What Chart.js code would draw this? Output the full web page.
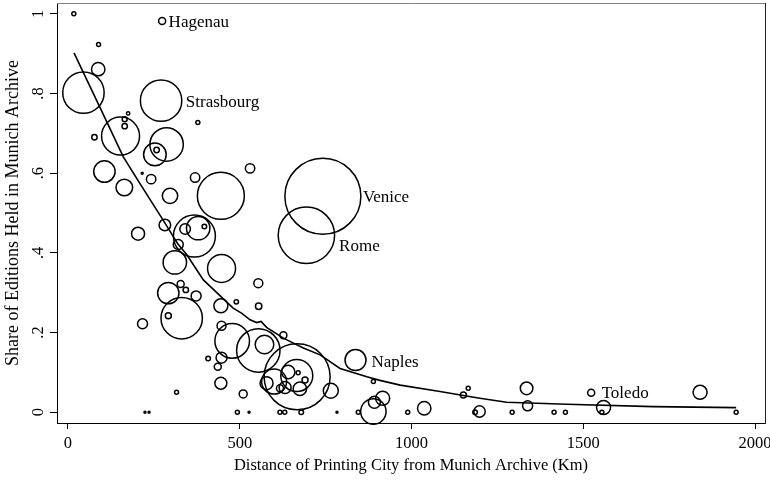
<!DOCTYPE html>
<html>
<head>
<meta charset="utf-8">
<script src="https://cdn.jsdelivr.net/npm/chart.js@4/dist/chart.umd.min.js"></script>
<style>
  html, body { margin: 0; padding: 0; background: #fff; }
  #wrap { width: 770px; height: 480px; }
</style>
</head>
<body>
<div id="wrap"><canvas id="c" width="770" height="480"></canvas></div>
<script>
// ---- data ----
const distKm = [17, 274, 89, 88, 45, 271, 378, 175, 165, 165,
  77, 153, 287, 253, 258, 106, 216, 242, 164, 370,
  530, 297, 445, 742, 694, 282, 204, 368, 379, 341,
  397, 321, 311, 447, 292, 331, 292, 328, 343, 373,
  217, 445, 554, 490, 555, 447, 478, 554, 572, 627,
  408, 447, 436, 445, 316, 510, 667, 666, 641, 670,
  600, 578, 675, 632, 690, 617, 765, 837, 889, 892,
  916, 889, 1037, 1151, 1165, 1198, 1185, 1293, 1335, 1338,
  1415, 1448, 1523, 1559, 1554, 1840, 1945, 224, 236, 493,
  527, 617, 631, 679, 783, 845, 989];
const shareHeld = [1.0, 0.982, 0.923, 0.861, 0.802, 0.782, 0.727, 0.75, 0.735, 0.718,
  0.69, 0.693, 0.672, 0.647, 0.658, 0.604, 0.6, 0.585, 0.564, 0.589,
  0.612, 0.543, 0.543, 0.542, 0.444, 0.47, 0.448, 0.442, 0.462, 0.46,
  0.466, 0.421, 0.376, 0.361, 0.299, 0.236, 0.242, 0.322, 0.307, 0.292,
  0.222, 0.267, 0.324, 0.277, 0.266, 0.217, 0.179, 0.155, 0.17, 0.193,
  0.135, 0.137, 0.114, 0.073, 0.05, 0.046, 0.089, 0.092, 0.101, 0.099,
  0.077, 0.073, 0.059, 0.062, 0.081, 0.06, 0.054, 0.131, 0.077, 0.025,
  0.035, 0.002, 0.01, 0.043, 0.06, 0.002, 0, 0, 0.06, 0.016,
  0, 0, 0.049, 0.012, 0, 0.05, 0, 0, 0, 0,
  0, 0, 0, 0, 0, 0, 0];
// bubble weight (Chart.js bubble radius)
const bubbleR = [2, 3.5, 2, 6.7, 20.7, 20.7, 2, 1.7, 2.5, 2.7,
  2.7, 19, 16.7, 11.3, 2.7, 10.7, 1, 4.7, 8.3, 4.7,
  4.7, 7.7, 23.5, 38, 28.2, 5.8, 6.5, 21, 11.7, 5.3,
  2.3, 5, 11.7, 14, 10.7, 20.7, 3, 3.5, 2.7, 5,
  5, 7, 4.5, 2.2, 3.2, 4.5, 17.3, 21.7, 9.3, 3.5,
  2.3, 5.5, 3.5, 6, 2, 4, 33, 16, 6.7, 2,
  12.5, 6.5, 6.7, 6, 3, 3.5, 7.5, 10.5, 2, 6,
  7, 12.7, 6.7, 3, 2, 5.7, 2.3, 2, 6.3, 5,
  2, 2, 3.5, 7, 2, 7, 2, 1, 1, 2,
  1, 2, 2, 2.3, 1, 2, 2];

// fitted (lowess) curve
const fitX = [17.5, 93, 161, 210, 277, 320, 346, 375, 394, 437, 480, 506, 530, 549, 562, 578, 627, 685, 734, 792, 870, 908, 967, 1083, 1151, 1199, 1277, 1452, 1704, 1945];
const fitY = [0.902, 0.765, 0.641, 0.573, 0.482, 0.422, 0.395, 0.357, 0.332, 0.297, 0.262, 0.248, 0.232, 0.225, 0.228, 0.213, 0.186, 0.161, 0.144, 0.110, 0.089, 0.080, 0.068, 0.052, 0.042, 0.035, 0.025, 0.020, 0.014, 0.0115];

// labelled cities (index into the bubble arrays)
const cityNames = ['Hagenau', 'Strasbourg', 'Venice', 'Rome', 'Naples', 'Toledo'];
const cityIndex = [1, 5, 23, 24, 67, 82];

// ticks
const xTickValues = [0, 500, 1000, 1500, 2000];
const yTickValues = [0, 0.2, 0.4, 0.6, 0.8, 1];
const yTickLabels = ['0', '.2', '.4', '.6', '.8', '1'];

const xTitle = 'Distance of Printing City from Munich Archive (Km)';
const yTitle = 'Share of Editions Held in Munich Archive';

// ---- styling ----
const FAMILY = "'Liberation Serif', 'Times New Roman', serif";
const FONT = { family: FAMILY, size: 16.5 };
const YTITLE_FONT = { family: FAMILY, size: 18 };
const LABEL_SIZE = 17;
const labelStyle = [
  { dx: 3, dy: 6 },   // Hagenau
  { dx: 4, dy: 6.5 }, // Strasbourg
  { dx: 2, dy: 6 },   // Venice
  { dx: 4.5, dy: 16 },// Rome
  { dx: 5.5, dy: 6.5 },// Naples
  { dx: 7, dy: 5.5 }  // Toledo
];

const bubblePoints = distKm.map((d, i) => ({ x: d, y: shareHeld[i], r: bubbleR[i] }));
const fitPoints = fitX.map((d, i) => ({ x: d, y: fitY[i] }));

function zeroPad(s) {
  s.paddingTop = 0; s.paddingBottom = 0; s.paddingLeft = 0; s.paddingRight = 0;
}

const framePlugin = {
  id: 'frame',
  afterDraw(chart) {
    const { ctx, chartArea: a } = chart;
    ctx.save();
    ctx.lineWidth = 1;
    ctx.strokeStyle = '#808080';
    ctx.beginPath();
    ctx.moveTo(a.left, Math.round(a.top) + 0.5);
    ctx.lineTo(a.right + 1, Math.round(a.top) + 0.5);
    ctx.stroke();
    ctx.strokeStyle = '#222';
    ctx.beginPath();
    ctx.moveTo(Math.round(a.right) + 0.5, a.top);
    ctx.lineTo(Math.round(a.right) + 0.5, a.bottom + 1);
    ctx.stroke();
    ctx.restore();
  }
};

const cityLabelPlugin = {
  id: 'cityLabels',
  afterDatasetsDraw(chart) {
    const { ctx } = chart;
    const meta = chart.getDatasetMeta(0);
    ctx.save();
    ctx.fillStyle = '#000';
    ctx.font = `${LABEL_SIZE}px ${FAMILY}`;
    ctx.textAlign = 'left';
    ctx.textBaseline = 'alphabetic';
    cityNames.forEach((name, k) => {
      const idx = cityIndex[k];
      const el = meta.data[idx];
      const st = labelStyle[k];
      ctx.fillText(name, el.x + bubbleR[idx] + st.dx, el.y + st.dy);
    });
    ctx.restore();
  }
};

new Chart(document.getElementById('c'), {
  type: 'bubble',
  data: {
    datasets: [
      {
        data: bubblePoints,
        backgroundColor: 'rgba(0,0,0,0)',
        borderColor: '#000',
        borderWidth: 1.5,
        hoverBorderWidth: 1.5,
        clip: false
      },
      {
        type: 'line',
        data: fitPoints,
        borderColor: '#000',
        borderWidth: 1.6,
        pointRadius: 0,
        fill: false,
        tension: 0,
        clip: false
      }
    ]
  },
  options: {
    responsive: false,
    animation: false,
    events: [],
    devicePixelRatio: 1,
    layout: { autoPadding: false, padding: { left: 0, top: 3, right: 5, bottom: 0 } },
    plugins: { legend: { display: false }, tooltip: { enabled: false } },
    scales: {
      x: {
        type: 'linear',
        min: -32,
        max: 2029,
        afterFit: s => { s.height = 57; zeroPad(s); },
        afterBuildTicks: s => { s.ticks = xTickValues.map(v => ({ value: v })); },
        grid: { display: true, drawOnChartArea: false, drawTicks: true, tickLength: 6, color: '#000', lineWidth: 1 },
        border: { display: true, color: '#000', width: 1 },
        ticks: { color: '#000', font: FONT, padding: 5, maxRotation: 0, autoSkip: false,
                 callback: v => String(v) },
        title: { display: true, text: xTitle, color: '#000', font: FONT, padding: { top: 0, bottom: 4 } }
      },
      y: {
        type: 'linear',
        min: -0.027,
        max: 1.027,
        afterFit: s => { s.width = 57; zeroPad(s); },
        afterBuildTicks: s => { s.ticks = yTickValues.map(v => ({ value: v })); },
        grid: { display: true, drawOnChartArea: false, drawTicks: true, tickLength: 7, color: '#000', lineWidth: 1 },
        border: { display: true, color: '#000', width: 1 },
        ticks: { color: '#000', font: FONT, padding: 5, minRotation: 90, maxRotation: 90, crossAlign: 'center', autoSkip: false,
                 callback: v => { const i = yTickValues.indexOf(v); return i >= 0 ? yTickLabels[i] : ''; } },
        title: { display: true, text: yTitle, color: '#000', font: YTITLE_FONT, padding: { top: 2, bottom: 0 } }
      }
    }
  },
  plugins: [framePlugin, cityLabelPlugin]
});
</script>
</body>
</html>
